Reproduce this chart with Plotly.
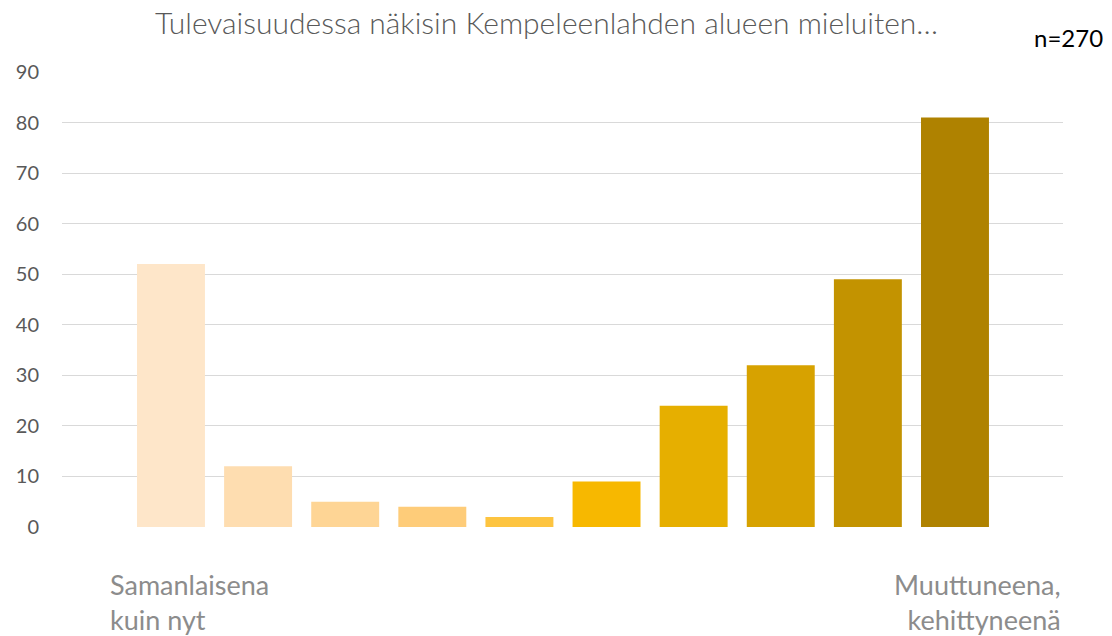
import plotly.graph_objects as go

# Answer scale positions 1..10 and response counts
positions = [1, 2, 3, 4, 5, 6, 7, 8, 9, 10]
counts = [52, 12, 5, 4, 2, 9, 24, 32, 49, 81]
bar_colors = ["#FEE6C9", "#FEDDB0", "#FED595", "#FECC79", "#FDC440",
              "#F7B800", "#E6AF00", "#D7A200", "#C39300", "#AF8200"]
y_ticks = [0, 10, 20, 30, 40, 50, 60, 70, 80, 90]

title_text = "Tulevaisuudessa näkisin Kempeleenlahden alueen mieluiten…"
n_text = "n=270"
left_label = "Samanlaisena<br>kuin nyt"
right_label = "Muuttuneena,<br>kehittyneenä"

FONT = "Lato"

fig = go.Figure(go.Bar(
    x=positions,
    y=counts,
    marker=dict(color=bar_colors, line=dict(width=0)),
    width=0.78,
    hoverinfo="x+y",
))

fig.update_layout(
    width=1112,
    height=636,
    margin=dict(l=62, r=49, t=72, b=109),
    paper_bgcolor="white",
    plot_bgcolor="white",
    showlegend=False,
    font=dict(family=FONT, color="#595959"),
    xaxis=dict(
        range=[-0.251, 11.24],
        showticklabels=False,
        showgrid=False,
        zeroline=False,
        ticks="",
    ),
    yaxis=dict(
        range=[0, 90],
        tickvals=y_ticks,
        showgrid=True,
        gridcolor="#D9D9D9",
        gridwidth=1.4,
        zeroline=False,
        ticks="",
        ticklabelstandoff=22,
        tickfont=dict(size=20, color="#595959", family=FONT),
    ),
    annotations=[
        dict(text=title_text, xref="paper", yref="paper", x=0.484, y=1.11,
             xanchor="center", yanchor="middle", showarrow=False,
             font=dict(size=30, color="#595959", family=FONT, weight=300)),
        dict(text=n_text, xref="paper", yref="paper", x=1.042, y=1.075,
             xanchor="right", yanchor="middle", showarrow=False,
             font=dict(size=24, color="#000000", family=FONT)),
        dict(text=left_label, xref="paper", yref="paper", x=0.046, y=-0.085,
             xanchor="left", yanchor="top", align="left", showarrow=False,
             font=dict(size=27, color="#8C8C8C", family=FONT)),
        dict(text=right_label, xref="paper", yref="paper", x=1.0, y=-0.085,
             xanchor="right", yanchor="top", align="right", showarrow=False,
             font=dict(size=27, color="#8C8C8C", family=FONT)),
    ],
)

fig.write_html("out.html")
